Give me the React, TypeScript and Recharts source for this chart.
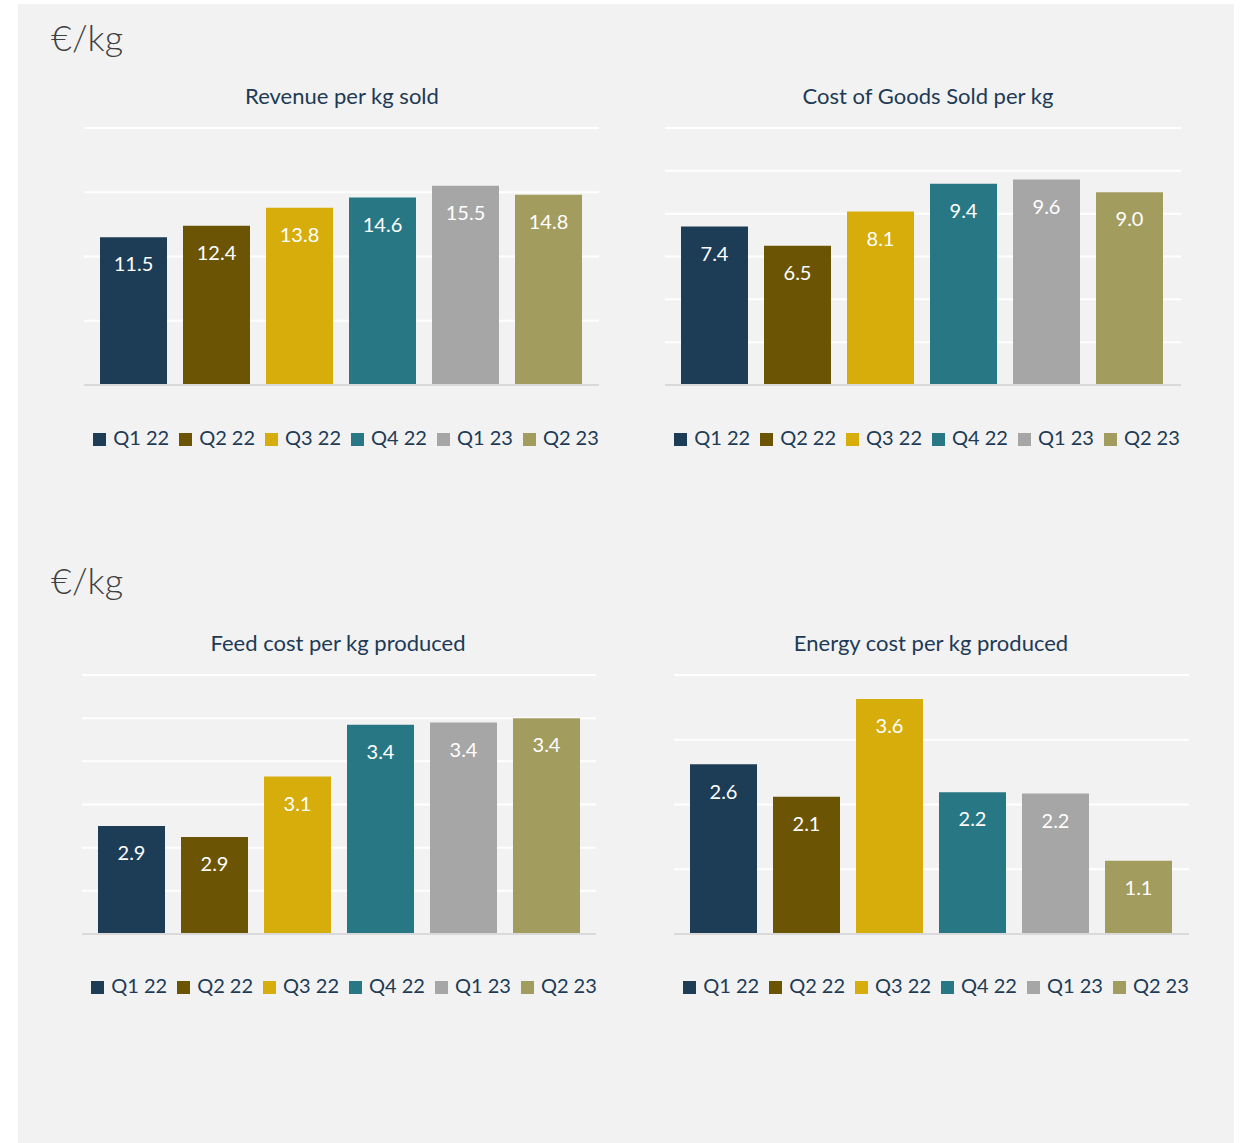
import React from 'react';
import { BarChart, Bar, XAxis, YAxis, CartesianGrid, Legend, LabelList, ReferenceLine } from 'recharts';

// Quarters are drawn as separate series so each one gets its own legend entry
const quarters = ['Q1 22', 'Q2 22', 'Q3 22', 'Q4 22', 'Q1 23', 'Q2 23'];
const quarterColors = ['#1d3c55', '#6b5504', '#d6ad0a', '#287785', '#a6a6a6', '#a39c5f'];

const revenuePerKg = [11.5, 12.4, 13.8, 14.6, 15.5, 14.8];
const cogsPerKg = [7.4, 6.5, 8.1, 9.4, 9.6, 9.0];
const feedCostPerKg = [2.9, 2.85, 3.13, 3.37, 3.38, 3.4];
const energyCostPerKg = [2.62, 2.12, 3.63, 2.19, 2.17, 1.13];

const revenueTicks = [0, 5, 10, 15, 20];
const cogsTicks = [0, 2, 4, 6, 8, 10, 12];
const feedTicks = [2.4, 2.6, 2.8, 3.0, 3.2, 3.4, 3.6];
const energyTicks = [0, 1, 2, 3, 4];

const textColor = '#203a55';
const unitColor = '#404040';

interface QuarterBarsProps {
  title: string;
  values: number[];
  ticks: number[];
  plotLeft: number;
  plotRight: number;
  gridTop: number;
  baseY: number;
  titleCenter: number;
  titleY: number;
  legendY: number;
}

const QuarterBars = ({
  title, values, ticks, plotLeft, plotRight, gridTop, baseY, titleCenter, titleY, legendY,
}: QuarterBarsProps) => {
  const row: Record<string, string | number> = { metric: title };
  quarters.forEach((q, i) => {
    row[q] = values[i];
  });

  const chartTop = gridTop - 10;
  const plotWidth = plotRight - plotLeft;
  const plotHeight = baseY - gridTop;
  const height = plotHeight + 90;

  return (
    <>
      <div
        style={{
          position: 'absolute', left: titleCenter - 250, width: 500, top: titleY - 13,
          textAlign: 'center', fontSize: 22, lineHeight: '26px', color: textColor,
        }}
      >
        {title}
      </div>
      <div style={{ position: 'absolute', left: plotLeft, top: chartTop }}>
        <BarChart
          width={plotWidth}
          height={height}
          data={[row]}
          margin={{ top: 10, right: 0, left: 0, bottom: height - 10 - plotHeight }}
          barCategoryGap={16}
          barGap={16}
        >
          <CartesianGrid vertical={false} stroke="#ffffff" strokeWidth={2} />
          <XAxis dataKey="metric" hide />
          <YAxis hide domain={[ticks[0], ticks[ticks.length - 1]]} ticks={ticks} />
          <ReferenceLine y={ticks[0]} stroke="#d9d9d9" strokeWidth={2} />
          {quarters.map((q, i) => (
            <Bar key={q} dataKey={q} fill={quarterColors[i]} isAnimationActive={false}>
              <LabelList
                dataKey={q}
                position="insideTop"
                offset={20}
                fill="#ffffff"
                fontSize={20}
                formatter={(v: any) => Number(v).toFixed(1)}
              />
            </Bar>
          ))}
          {/* middle + center keeps the legend from shrinking the plot area */}
          <Legend
            verticalAlign="middle"
            align="center"
            iconType="square"
            iconSize={13}
            itemSorter={(item: any) => quarters.indexOf(item.value)}
            wrapperStyle={{
              top: legendY - chartTop - 13, left: -33, width: 600,
              lineHeight: '24px', fontSize: 20,
            }}
            formatter={(v: any) => <span style={{ color: textColor, marginLeft: 3 }}>{v}</span>}
          />
        </BarChart>
      </div>
    </>
  );
};

const UnitLabel = ({ top }: { top: number }) => (
  <div
    style={{
      position: 'absolute', left: 51, top, fontSize: 36, lineHeight: '36px',
      fontWeight: 300, color: unitColor,
    }}
  >
    €/kg
  </div>
);

const App = () => (
  <div
    style={{
      position: 'absolute', left: 0, top: 0, width: 1240, height: 1143,
      background: '#ffffff', fontFamily: 'Lato, sans-serif', overflow: 'hidden',
    }}
  >
    <div style={{ position: 'absolute', left: 18, top: 4, width: 1216, height: 1139, background: '#f2f2f2' }} />

    <UnitLabel top={19} />
    <UnitLabel top={562} />

    <QuarterBars
      title="Revenue per kg sold"
      values={revenuePerKg}
      ticks={revenueTicks}
      plotLeft={84}
      plotRight={599}
      gridTop={128}
      baseY={385}
      titleCenter={342}
      titleY={96}
      legendY={438}
    />
    <QuarterBars
      title="Cost of Goods Sold per kg"
      values={cogsPerKg}
      ticks={cogsTicks}
      plotLeft={665}
      plotRight={1181}
      gridTop={128}
      baseY={385}
      titleCenter={928}
      titleY={96}
      legendY={438}
    />
    <QuarterBars
      title="Feed cost per kg produced"
      values={feedCostPerKg}
      ticks={feedTicks}
      plotLeft={82}
      plotRight={596}
      gridTop={675}
      baseY={934}
      titleCenter={338}
      titleY={643}
      legendY={986}
    />
    <QuarterBars
      title="Energy cost per kg produced"
      values={energyCostPerKg}
      ticks={energyTicks}
      plotLeft={674}
      plotRight={1189}
      gridTop={675}
      baseY={934}
      titleCenter={931}
      titleY={643}
      legendY={986}
    />
  </div>
);

export default App;
